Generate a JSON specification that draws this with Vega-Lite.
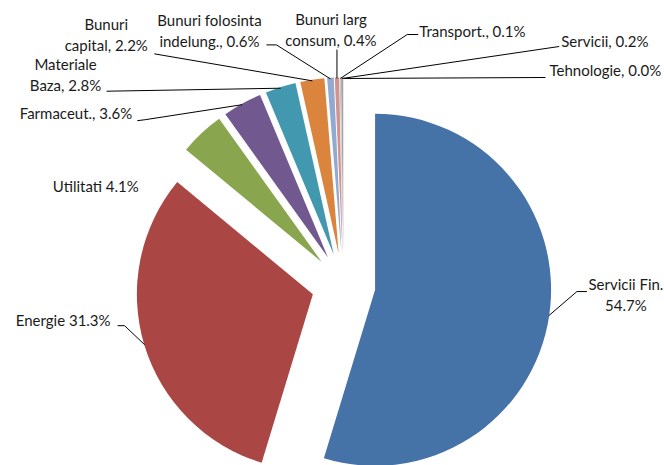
{
  "$schema": "https://vega.github.io/schema/vega-lite/v6.json",
  "width": 664,
  "height": 465,
  "padding": 0,
  "autosize": {"type": "fit", "contains": "padding"},
  "background": "white",
  "config": {"view": {"stroke": null}, "text": {"font": "Lato", "fontSize": 15, "color": "#1a1a1a", "lineHeight": 21, "baseline": "middle", "lineBreak": "\n"}},
  "data": {"values": [
    {"cat": "Servicii Fin.", "share": 54.7, "label": "Servicii Fin.\n54.7%"},
    {"cat": "Energie", "share": 31.3, "label": "Energie 31.3%"},
    {"cat": "Utilitati", "share": 4.1, "label": "Utilitati 4.1%"},
    {"cat": "Farmaceut.", "share": 3.6, "label": "Farmaceut., 3.6%"},
    {"cat": "Materiale Baza", "share": 2.8, "label": "Materiale\nBaza, 2.8%"},
    {"cat": "Bunuri capital", "share": 2.2, "label": "Bunuri\ncapital, 2.2%"},
    {"cat": "Bunuri folosinta indelung.", "share": 0.6, "label": "Bunuri folosinta\nindelung., 0.6%"},
    {"cat": "Bunuri larg consum", "share": 0.4, "label": "Bunuri larg\nconsum, 0.4%"},
    {"cat": "Transport.", "share": 0.1, "label": "Transport., 0.1%"},
    {"cat": "Servicii", "share": 0.2, "label": "Servicii, 0.2%"},
    {"cat": "Tehnologie", "share": 0.0, "label": "Tehnologie, 0.0%"}
  ]},
  "transform": [
    {"stack": "share", "groupby": [], "as": ["s0", "s1"]},
    {"calculate": "(datum.s0 + datum.s1) * PI / 100", "as": "mid"},
    {"calculate": "32 * sin(datum.mid)", "as": "ex"},
    {"calculate": "32 * cos(datum.mid)", "as": "ey"},
    {"calculate": "208 * sin(datum.mid)", "as": "px"},
    {"calculate": "208 * cos(datum.mid)", "as": "py"}
  ],
  "encoding": {
    "x": {"field": "px", "type": "quantitative", "axis": null, "scale": {"domain": [-344, 320], "nice": false, "zero": false}},
    "y": {"field": "py", "type": "quantitative", "axis": null, "scale": {"domain": [-178, 287], "nice": false, "zero": false}}
  },
  "layer": [
    {
      "mark": {"type": "arc", "outerRadius": 176},
      "encoding": {
        "x": {"field": "ex", "type": "quantitative"},
        "y": {"field": "ey", "type": "quantitative"},
        "theta": {"field": "s0", "type": "quantitative", "scale": {"domain": [0, 100], "range": [0, 6.283185307179586]}},
        "theta2": {"field": "s1"},
        "color": {"field": "cat", "type": "nominal", "legend": null, "sort": null,
          "scale": {"domain": ["Servicii Fin.", "Energie", "Utilitati", "Farmaceut.", "Materiale Baza", "Bunuri capital", "Bunuri folosinta indelung.", "Bunuri larg consum", "Transport.", "Servicii", "Tehnologie"],
            "range": ["#4572A7", "#AA4643", "#89A54E", "#71588F", "#4198AF", "#DB843D", "#93A9CF", "#D19392", "#B9CD96", "#A99BBD", "#3D96AE"]}}
      }
    },
    {
      "transform": [{"filter": "datum.cat != 'Utilitati'"}],
      "mark": {"type": "point", "filled": false, "color": "#000000", "strokeWidth": 1, "opacity": 1, "size": 4},
      "encoding": {
        "shape": {"field": "cat", "type": "nominal", "legend": null,
          "scale": {"domain": ["Servicii Fin.", "Energie", "Farmaceut.", "Materiale Baza", "Bunuri capital", "Bunuri folosinta indelung.", "Bunuri larg consum", "Transport.", "Servicii", "Tehnologie"],
            "range": ["M0,0L28,-24L38,-24", "M0,0L-20,-19L-27,-19", "M0,0L-97,15L-105,16", "M0,0L-174,3", "M0,0L-158,-27", "M0,0L-54,-34L-64,-34", "M0,0L0,-29", "M0,0L67,-44L78,-44", "M0,0L217,-32", "M0,0L202,-1"]}}
      }
    },
    {"transform": [{"filter": "datum.cat == 'Servicii Fin.'"}], "mark": {"type": "text", "align": "center", "dx": 77, "dy": -31}, "encoding": {"text": {"field": "label"}}},
    {"transform": [{"filter": "datum.cat == 'Energie'"}], "mark": {"type": "text", "align": "right", "dx": -34, "dy": -24}, "encoding": {"text": {"field": "label"}}},
    {"transform": [{"filter": "datum.cat == 'Utilitati'"}], "mark": {"type": "text", "align": "center", "dx": -106, "dy": 53}, "encoding": {"text": {"field": "label"}}},
    {"transform": [{"filter": "datum.cat == 'Farmaceut.'"}], "mark": {"type": "text", "align": "right", "dx": -110, "dy": 9}, "encoding": {"text": {"field": "label"}}},
    {"transform": [{"filter": "datum.cat == 'Materiale Baza'"}], "mark": {"type": "text", "align": "center", "dx": -215, "dy": -23}, "encoding": {"text": {"field": "label"}}},
    {"transform": [{"filter": "datum.cat == 'Bunuri capital'"}], "mark": {"type": "text", "align": "center", "dx": -206, "dy": -56}, "encoding": {"text": {"field": "label"}}},
    {"transform": [{"filter": "datum.cat == 'Bunuri folosinta indelung.'"}], "mark": {"type": "text", "align": "center", "dx": -121, "dy": -58}, "encoding": {"text": {"field": "label"}}},
    {"transform": [{"filter": "datum.cat == 'Bunuri larg consum'"}], "mark": {"type": "text", "align": "center", "dx": -6, "dy": -59}, "encoding": {"text": {"field": "label"}}},
    {"transform": [{"filter": "datum.cat == 'Transport.'"}], "mark": {"type": "text", "align": "left", "dx": 79, "dy": -47}, "encoding": {"text": {"field": "label"}}},
    {"transform": [{"filter": "datum.cat == 'Servicii'"}], "mark": {"type": "text", "align": "left", "dx": 219, "dy": -36}, "encoding": {"text": {"field": "label"}}},
    {"transform": [{"filter": "datum.cat == 'Tehnologie'"}], "mark": {"type": "text", "align": "left", "dx": 206, "dy": -7}, "encoding": {"text": {"field": "label"}}}
  ]
}
